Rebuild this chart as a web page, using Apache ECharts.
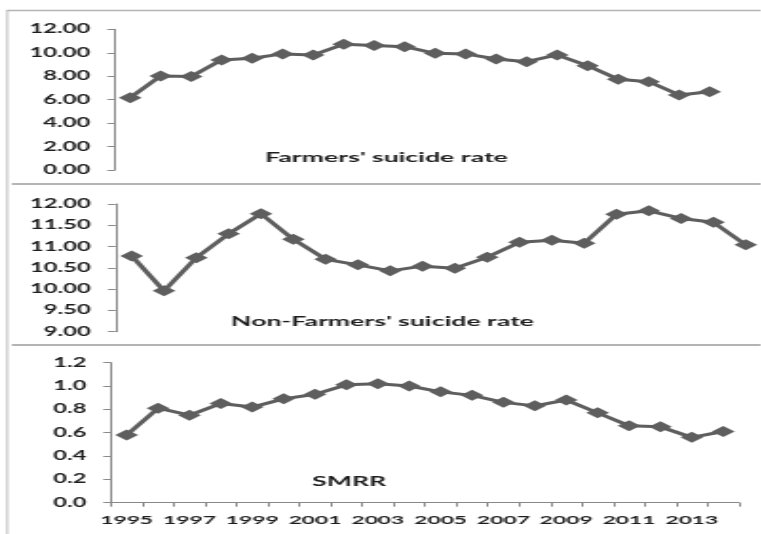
<!DOCTYPE html>
<html>
<head>
<meta charset="utf-8">
<script src="https://cdn.jsdelivr.net/npm/echarts@6/dist/echarts.min.js"></script>
<style>
  html, body { margin: 0; padding: 0; background: #fff; overflow: hidden; }
  /* the figure is laid out narrow and widened horizontally */
  #wrap { width: 761px; height: 534px; overflow: hidden; }
  #chart { width: 400.5px; height: 534px; transform: scaleX(1.9); transform-origin: 0 0; }
</style>
</head>
<body>
<div id="wrap"><div id="chart"></div></div>
<script>
// Years shown on the shared horizontal axis
const years = ['1995','1996','1997','1998','1999','2000','2001','2002','2003','2004',
               '2005','2006','2007','2008','2009','2010','2011','2012','2013','2014'];

// Suicide rate among farmers
const farmersRate = [6.17, 8.02, 7.98, 9.39, 9.53, 9.90, 9.81, 10.72, 10.61, 10.52,
                     9.95, 9.90, 9.47, 9.24, 9.81, 8.90, 7.74, 7.53, 6.40, 6.68];

// Suicide rate among non-farmers
const nonFarmersRate = [10.78, 9.96, 10.74, 11.30, 11.77, 11.17, 10.70, 10.57, 10.43, 10.54,
                        10.49, 10.75, 11.10, 11.15, 11.08, 11.76, 11.84, 11.66, 11.57, 11.04];

// Standardised mortality rate ratio
const smrr = [0.58, 0.81, 0.75, 0.85, 0.82, 0.89, 0.93, 1.01, 1.02, 1.00,
              0.95, 0.92, 0.86, 0.83, 0.88, 0.77, 0.66, 0.65, 0.56, 0.61];

// Panel titles
const panelTitles = ["Farmers' suicide rate", "Non-Farmers' suicide rate", "SMRR"];

const FONT = 'Lato';
const WEIGHT = 'bold';
const TEXT = '#1e1e1e';
const AXIS = '#888888';
const LINE = '#5e5e5e';
const FRAME = '#b4b4b4';

function valueAxis(gridIndex, min, max, interval, digits) {
  return {
    type: 'value', gridIndex, min, max, interval,
    axisLine: { show: true, lineStyle: { color: AXIS, width: 1 } },
    axisTick: { show: true, length: 4, lineStyle: { color: AXIS } },
    splitLine: { show: false },
    axisLabel: {
      margin: 13, fontFamily: FONT, fontWeight: WEIGHT, fontSize: 12.5, color: TEXT,
      formatter: v => v.toFixed(digits)
    }
  };
}

function categoryAxis(gridIndex, visible) {
  return {
    type: 'category', gridIndex, data: years, boundaryGap: true,
    show: visible,
    axisLine: { show: visible, lineStyle: { color: AXIS, width: 1 } },
    axisTick: { show: visible, interval: 0, length: 4, lineStyle: { color: AXIS } },
    axisLabel: { show: visible, interval: 1, margin: 11, fontFamily: FONT, fontWeight: WEIGHT, fontSize: 12, color: TEXT },
    splitLine: { show: false }
  };
}

function lineSeries(index, data) {
  return {
    type: 'line', xAxisIndex: index, yAxisIndex: index, data,
    symbol: 'diamond', symbolSize: [12, 11], showSymbol: true, showAllSymbol: true,
    lineStyle: { color: LINE, width: 3 },
    itemStyle: { color: LINE },
    emphasis: { disabled: true },
    animation: false
  };
}

function hline(x1, x2, y, w) {
  return { type: 'line', shape: { x1, y1: y, x2, y2: y }, style: { stroke: FRAME, lineWidth: w }, silent: true };
}

function title(text, x, y) {
  return { type: 'text', x, y, silent: true,
    style: { text, font: 'bold 14px Lato', fill: TEXT, align: 'center', verticalAlign: 'middle' } };
}

const chart = echarts.init(document.getElementById('chart'), null, { renderer: 'canvas' });

chart.setOption({
  backgroundColor: '#ffffff',
  animation: false,
  grid: [
    { left: 60.5, top: 29.3, width: 321.0, height: 140.7 },
    { left: 60.8, top: 204.0, width: 341.6, height: 127.7 },
    { left: 58.4, top: 362.7, width: 330.5, height: 140.0 }
  ],
  xAxis: [categoryAxis(0, false), categoryAxis(1, false), categoryAxis(2, true)],
  yAxis: [
    valueAxis(0, 0, 12, 2, 2),
    valueAxis(1, 9, 12, 0.5, 2),
    valueAxis(2, 0, 1.2, 0.2, 1)
  ],
  series: [
    lineSeries(0, farmersRate),
    lineSeries(1, nonFarmersRate),
    lineSeries(2, smrr)
  ],
  graphic: [
    // panel frames
    { type: 'line', shape: { x1: 3.85, y1: 10, x2: 3.85, y2: 534 }, style: { stroke: FRAME, lineWidth: 0.9 }, silent: true },
    hline(3.6, 400.5, 10.5, 1.5),
    hline(6.2, 400.5, 184, 2),
    hline(6.2, 400.5, 345, 2),
    // panel titles
    title(panelTitles[0], 203.4, 157),
    title(panelTitles[1], 201.3, 321.7),
    title(panelTitles[2], 183.7, 481.7)
  ]
});
</script>
</body>
</html>
